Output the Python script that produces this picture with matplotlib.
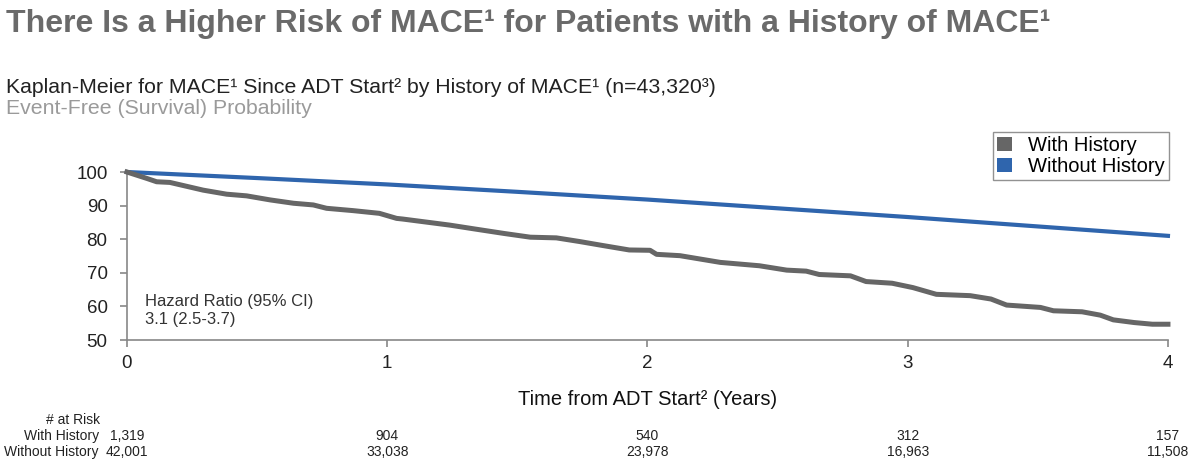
import matplotlib.pyplot as plt
from matplotlib.patches import Patch

# 읽어낸 값 (Kaplan-Meier, %)
time_with = [0.0, 0.076, 0.114, 0.165, 0.293, 0.383, 0.46, 0.55, 0.64, 0.716, 0.767, 0.87, 0.97,
             1.036, 1.06, 1.14, 1.24, 1.34, 1.45, 1.55, 1.65, 1.74, 1.83, 1.93, 2.01, 2.035,
             2.125, 2.28, 2.43, 2.535, 2.61, 2.66, 2.78, 2.84, 2.94, 3.02, 3.11, 3.24, 3.32,
             3.38, 3.51, 3.56, 3.67, 3.74, 3.79, 3.87, 3.94, 4.0]
surv_with = [100, 98.1, 97.1, 96.9, 94.6, 93.4, 92.9, 91.7, 90.7, 90.2, 89.2, 88.5, 87.7,
             86.2, 86.0, 85.2, 84.2, 83.0, 81.7, 80.6, 80.4, 79.3, 78.1, 76.8, 76.7, 75.5,
             75.1, 73.1, 72.1, 70.8, 70.5, 69.5, 69.1, 67.4, 66.9, 65.6, 63.6, 63.2, 62.2,
             60.4, 59.7, 58.7, 58.4, 57.4, 56.0, 55.2, 54.7, 54.7]

time_without = [0, 0.5, 1.0, 1.5, 2.0, 2.5, 3.0, 3.5, 4.0]
surv_without = [100, 98.2, 96.3, 94.1, 91.8, 89.2, 86.6, 83.8, 81.0]

risk_times = [0, 1, 2, 3, 4]
risk_with = ['1,319', '904', '540', '312', '157']
risk_without = ['42,001', '33,038', '23,978', '16,963', '11,508']

c_with = '#666666'
c_without = '#2f65ad'

plt.rcParams['font.family'] = ['Liberation Sans', 'DejaVu Sans']

fig = plt.figure(figsize=(12, 4.71), dpi=100)

fig.text(0.005, 0.95, 'There Is a Higher Risk of MACE¹ for Patients with a History of MACE¹',
         fontsize=23, fontweight='bold', color='#6a6a6a', va='center')
fig.text(0.005, 0.815, 'Kaplan-Meier for MACE¹ Since ADT Start² by History of MACE¹ (n=43,320³)',
         fontsize=15.3, color='#222222', va='center')
fig.text(0.005, 0.77, 'Event-Free (Survival) Probability',
         fontsize=15.3, color='#9a9a9a', va='center')

ax = fig.add_axes([0.1058, 0.2781, 0.8675, 0.3567])
ax.plot(time_without, surv_without, color=c_without, lw=3.0, clip_on=False, zorder=3)
ax.plot(time_with, surv_with, color=c_with, lw=3.6, clip_on=False, zorder=4)

ax.set_xlim(0, 4)
ax.set_ylim(50, 100)
ax.set_xticks(range(0, 5))
ax.set_yticks(range(50, 101, 10))
for s in ['top', 'right']:
    ax.spines[s].set_visible(False)
for s in ['left', 'bottom']:
    ax.spines[s].set_color('#888888')
    ax.spines[s].set_linewidth(1.2)
ax.tick_params(axis='both', colors='#888888', labelcolor='#222222', labelsize=13.5, length=5, width=1.2)
ax.tick_params(axis='x', pad=6)
ax.tick_params(axis='y', pad=9)
ax.set_xlabel('Time from ADT Start² (Years)', fontsize=14.5, color='#111111', labelpad=13)

ax.text(0.0175, 0.175, 'Hazard Ratio (95% CI)\n3.1 (2.5-3.7)', transform=ax.transAxes,
        fontsize=12, color='#333333', va='center', linespacing=1.25)

handles = [Patch(facecolor=c_with, label='With History'),
           Patch(facecolor=c_without, label='Without History')]
leg = fig.legend(handles=handles, loc='upper right', bbox_to_anchor=(0.974, 0.72),
                 fontsize=14.5, frameon=True, fancybox=False, handlelength=0.75, handleheight=0.75,
                 handletextpad=0.8, borderpad=0.2, labelspacing=0.1, borderaxespad=0)
leg.get_frame().set_edgecolor('#777777')
leg.get_frame().set_linewidth(1.0)

# 위험군 수 표
fig.text(0.0835, 1 - 420 / 471, '# at Risk', ha='right', va='center', fontsize=10, color='#222222')
fig.text(0.0825, 1 - 436 / 471, 'With History', ha='right', va='center', fontsize=10, color='#222222')
fig.text(0.0825, 1 - 452 / 471, 'Without History', ha='right', va='center', fontsize=10, color='#222222')
for t, a, b in zip(risk_times, risk_with, risk_without):
    xf = ax.transData.transform((t, 50))[0] / fig.bbox.width
    fig.text(xf, 1 - 436 / 471, a, ha='center', va='center', fontsize=10, color='#222222')
    fig.text(xf, 1 - 452 / 471, b, ha='center', va='center', fontsize=10, color='#222222')

plt.savefig('out.png', dpi=100)
